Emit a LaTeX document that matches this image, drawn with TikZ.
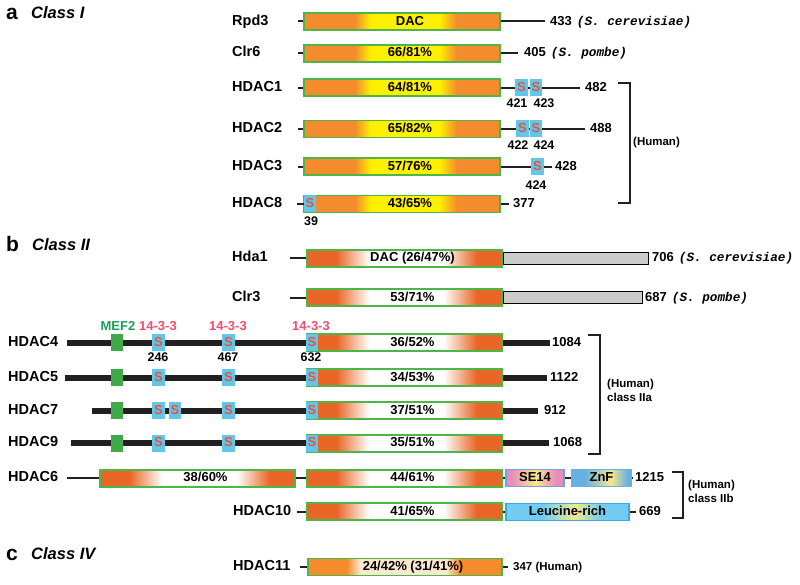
\documentclass[tikz,border=0pt]{standalone}
\usepackage{fontspec}
\setmainfont{Liberation Sans}
\newfontfamily\speciesfont{Liberation Mono}
\usetikzlibrary{positioning}

\definecolor{dacorange}{RGB}{244,140,46}
\definecolor{dacyellow}{RGB}{255,240,0}
\definecolor{dacgreen}{RGB}{78,182,72}
\definecolor{hdorange}{RGB}{232,102,38}
\definecolor{paleorange}{RGB}{250,232,206}
\definecolor{sercyan}{RGB}{96,198,234}
\definecolor{serred}{RGB}{228,84,62}
\definecolor{bindpink}{RGB}{238,78,108}
\definecolor{mefgreen}{RGB}{62,170,74}
\definecolor{meftext}{RGB}{28,158,88}
\definecolor{tailgray}{RGB}{204,204,204}
\definecolor{sepink}{RGB}{232,142,186}
\definecolor{seyellow}{RGB}{246,232,140}
\definecolor{seedge}{RGB}{120,160,214}
\definecolor{znblue}{RGB}{104,176,226}
\definecolor{leublue}{RGB}{112,204,240}
\definecolor{leuedge}{RGB}{60,170,225}
\definecolor{barblack}{RGB}{35,31,32}

\pgfdeclarehorizontalshading{classone}{100bp}{color(0bp)=(dacorange); color(38bp)=(dacorange); color(42bp)=(dacyellow); color(59.5bp)=(dacyellow); color(64bp)=(dacorange); color(100bp)=(dacorange)}
\pgfdeclarehorizontalshading{classtwo}{100bp}{color(0bp)=(hdorange); color(32.5bp)=(hdorange); color(41bp)=(white); color(60bp)=(white); color(68.5bp)=(hdorange); color(100bp)=(hdorange)}
\pgfdeclarehorizontalshading{classfour}{100bp}{color(0bp)=(dacorange); color(35bp)=(dacorange); color(38.5bp)=(paleorange); color(60.5bp)=(paleorange); color(64bp)=(dacorange); color(100bp)=(dacorange)}
\pgfdeclarehorizontalshading{seshade}{100bp}{color(0bp)=(sepink); color(30bp)=(sepink); color(50bp)=(seyellow); color(68bp)=(sepink); color(100bp)=(sepink)}
\pgfdeclarehorizontalshading{znshade}{100bp}{color(0bp)=(znblue); color(36bp)=(znblue); color(58bp)=(seyellow); color(72bp)=(znblue); color(100bp)=(znblue)}
\pgfdeclarehorizontalshading{leushade}{100bp}{color(0bp)=(leublue); color(40bp)=(leublue); color(53bp)=(seyellow); color(64bp)=(leublue); color(100bp)=(leublue)}

\newcommand\fsz[1]{\fontsize{#1}{#1}\selectfont}
\newcommand\species{\speciesfont\itshape\fsz{12.7}}

\begin{document}
\begin{tikzpicture}[x=1pt,y=-1pt,
	txt/.style={inner sep=0,text height=0.72em,text depth=0pt},
	panel/.style={anchor=base west,inner sep=0,font=\fsz{21}\bfseries},
	classhead/.style={anchor=base west,inner sep=0,font=\fsz{16.5}\bfseries\itshape},
	prot/.style={txt,anchor=west,font=\fsz{14.5}\bfseries},
	len/.style={txt,anchor=west,font=\fsz{13}\bfseries},
	sitenum/.style={txt,font=\fsz{12.5}\bfseries},
	note/.style={anchor=west,inner sep=0,align=left,font=\fontsize{11.5}{13.5}\selectfont\bfseries},
	dactext/.style={txt,xshift=8,font=\fsz{13}\bfseries},
	dacI/.style={draw=dacgreen,line width=1.5,shade,shading=classone,minimum width=196,minimum height=17,inner sep=0},
	dacII/.style={draw=dacgreen,line width=1.5,shade,shading=classtwo,minimum width=195,minimum height=17,inner sep=0},
	dacIV/.style={draw=dacgreen,line width=1.5,shade,shading=classfour,minimum width=194,minimum height=17,inner sep=0},
	ser/.style={txt,fill=sercyan,minimum width=12.5,minimum height=17,text=serred,font=\fsz{13}\bfseries},
	mef/.style={fill=mefgreen,minimum width=12,minimum height=17,inner sep=0},
	tail/.style={draw=black,line width=1.5,fill=tailgray,minimum height=12,inner sep=0,anchor=west},
	sebox/.style={txt,draw=seedge,line width=1.2,shade,shading=seshade,minimum width=58,minimum height=17,font=\fsz{13}\bfseries},
	znbox/.style={txt,draw=znblue,line width=1.2,shade,shading=znshade,minimum width=59,minimum height=17,font=\fsz{13}\bfseries},
	leubox/.style={txt,draw=leuedge,line width=1.2,shade,shading=leushade,minimum width=123,minimum height=17,font=\fsz{13}\bfseries},
	bindname/.style={txt,text=bindpink,font=\fsz{13}\bfseries},
	mefname/.style={txt,text=meftext,font=\fsz{13}\bfseries},
	link/.style={line width=2,barblack},
	bar/.style={line width=6,barblack},
	bracket/.style={line width=2,barblack}]
	\useasboundingbox (0,0) rectangle (800,585);

	% a: class I
	\node[panel] (pa) at (6,19.3) {a};
	\node[classhead] (ca) at (31,18.5) {Class I};

	\node[prot] (rpd3) at (232,21.5) {Rpd3};
	\coordinate (rpd3in) at (298,21.5);
	\node[dacI,label={[dactext]center:DAC}] (rpd3dac) at (402,21.5) {};
	\coordinate (rpd3end) at (545,21.5);
	\node[len] (rpd3len) at (550,21.5) {433\hspace{5pt}{\species (S.\ cerevisiae)}};
	\draw[link] (rpd3in) -- (rpd3dac.west);
	\draw[link] (rpd3dac.east) -- (rpd3end);

	\node[prot] (clr6) at (232,53.3) {Clr6};
	\coordinate (clr6in) at (298,53.3);
	\node[dacI,label={[dactext]center:66/81\%}] (clr6dac) at (402,53.3) {};
	\coordinate (clr6end) at (518,53.3);
	\node[len] (clr6len) at (524,53.3) {405\hspace{5pt}{\species (S.\ pombe)}};
	\draw[link] (clr6in) -- (clr6dac.west);
	\draw[link] (clr6dac.east) -- (clr6end);

	\node[prot] (hdac1) at (232,87.7) {HDAC1};
	\coordinate (h1in) at (298,87.7);
	\node[dacI,label={[dactext]center:64/81\%}] (h1dac) at (402,87.7) {};
	\node[ser] (h1s1) at (521.5,87.7) {S};
	\node[ser] (h1s2) at (536,87.7) {S};
	\coordinate (h1end) at (580,87.7);
	\node[len] (h1len) at (585,87.7) {482};
	\node[sitenum] (h1p1) at (517,104) {421};
	\node[sitenum] (h1p2) at (544,104) {423};
	\draw[link] (h1in) -- (h1dac.west);
	\draw[link] (h1dac.east) -- (h1s1.west);
	\draw[link] (h1s1.east) -- (h1s2.west);
	\draw[link] (h1s2.east) -- (h1end);

	\node[prot] (hdac2) at (232,129) {HDAC2};
	\coordinate (h2in) at (298,129);
	\node[dacI,label={[dactext]center:65/82\%}] (h2dac) at (402,129) {};
	\node[ser] (h2s1) at (522.5,129) {S};
	\node[ser] (h2s2) at (536,129) {S};
	\coordinate (h2end) at (585,129);
	\node[len] (h2len) at (590,129) {488};
	\node[sitenum] (h2p1) at (518,145.5) {422};
	\node[sitenum] (h2p2) at (544,145.5) {424};
	\draw[link] (h2in) -- (h2dac.west);
	\draw[link] (h2dac.east) -- (h2s1.west);
	\draw[link] (h2s1.east) -- (h2s2.west);
	\draw[link] (h2s2.east) -- (h2end);

	\node[prot] (hdac3) at (232,166.7) {HDAC3};
	\coordinate (h3in) at (298,166.7);
	\node[dacI,label={[dactext]center:57/76\%}] (h3dac) at (402,166.7) {};
	\node[ser] (h3s1) at (537.5,166.7) {S};
	\coordinate (h3end) at (552,166.7);
	\node[len] (h3len) at (555,166.7) {428};
	\node[sitenum] (h3p1) at (536,185.5) {424};
	\draw[link] (h3in) -- (h3dac.west);
	\draw[link] (h3dac.east) -- (h3s1.west);
	\draw[link] (h3s1.east) -- (h3end);

	\node[prot] (hdac8) at (232,204) {HDAC8};
	\coordinate (h8in) at (297,204);
	\node[dacI,label={[dactext]center:43/65\%}] (h8dac) at (402,204) {};
	\node[ser] (h8s1) at (310,204) {S};
	\coordinate (h8end) at (509,204);
	\node[len] (h8len) at (513,204) {377};
	\node[sitenum] (h8p1) at (311,222) {39};
	\draw[link] (h8in) -- (h8s1.west);
	\draw[link] (h8dac.east) -- (h8end);

	\draw[bracket] (618,83) -| (630,203) -- (618,203);
	\node[note] (huma) at (633,143) {(Human)};

	% b: class II
	\node[panel] (pb) at (6,251.7) {b};
	\node[classhead] (cb) at (32,250.7) {Class II};

	\node[prot] (hda1) at (232,258.3) {Hda1};
	\coordinate (hda1in) at (290,258.3);
	\node[dacII,label={[dactext]center:DAC (26/47\%)}] (hda1dac) at (404.5,258.3) {};
	\node[tail,minimum width=145] (hda1tail) at (hda1dac.east) {};
	\node[len] (hda1len) at (652,258.3) {706\hspace{5pt}{\species (S.\ cerevisiae)}};
	\draw[link] (hda1in) -- (hda1dac.west);

	\node[prot] (clr3) at (232,297.7) {Clr3};
	\coordinate (clr3in) at (290,297.7);
	\node[dacII,label={[dactext]center:53/71\%}] (clr3dac) at (404.5,297.7) {};
	\node[tail,minimum width=139] (clr3tail) at (clr3dac.east) {};
	\node[len] (clr3len) at (645,297.7) {687\hspace{5pt}{\species (S.\ pombe)}};
	\draw[link] (clr3in) -- (clr3dac.west);

	\node[mefname] (mef2) at (118,327) {MEF2};
	\node[bindname] (bind1) at (158,327) {14-3-3};
	\node[bindname] (bind2) at (228,327) {14-3-3};
	\node[bindname] (bind3) at (311,327) {14-3-3};

	\node[prot] (hdac4) at (8,342.7) {HDAC4};
	\coordinate (h4in) at (67,342.7);
	\coordinate (h4end) at (550,342.7);
	\draw[bar] (h4in) -- (h4end);
	\node[mef] (h4mef) at (117,342.7) {};
	\node[ser] (h4s1) at (158.5,342.7) {S};
	\node[ser] (h4s2) at (228.5,342.7) {S};
	\node[dacII,label={[dactext]center:36/52\%}] (h4dac) at (404.5,342.7) {};
	\node[ser] (h4s3) at (312,342.7) {S};
	\node[len] (h4len) at (552,342.7) {1084};
	\node[sitenum] (h4p1) at (158,358) {246};
	\node[sitenum] (h4p2) at (228,358) {467};
	\node[sitenum] (h4p3) at (311,358) {632};

	\node[prot] (hdac5) at (8,377.7) {HDAC5};
	\coordinate (h5in) at (65,377.7);
	\coordinate (h5end) at (547,377.7);
	\draw[bar] (h5in) -- (h5end);
	\node[mef] (h5mef) at (117,377.7) {};
	\node[ser] (h5s1) at (158.5,377.7) {S};
	\node[ser] (h5s2) at (228.5,377.7) {S};
	\node[dacII,label={[dactext]center:34/53\%}] (h5dac) at (404.5,377.7) {};
	\node[ser] (h5s3) at (312,377.7) {S};
	\node[len] (h5len) at (550,377.7) {1122};

	\node[prot] (hdac7) at (8,410.7) {HDAC7};
	\coordinate (h7in) at (92,410.7);
	\coordinate (h7end) at (538,410.7);
	\draw[bar] (h7in) -- (h7end);
	\node[mef] (h7mef) at (117,410.7) {};
	\node[ser] (h7s1) at (158.5,410.7) {S};
	\node[ser] (h7s2) at (175,410.7) {S};
	\node[ser] (h7s3) at (228.5,410.7) {S};
	\node[dacII,label={[dactext]center:37/51\%}] (h7dac) at (404.5,410.7) {};
	\node[ser] (h7s4) at (312,410.7) {S};
	\node[len] (h7len) at (544,410.7) {912};

	\node[prot] (hdac9) at (8,443.3) {HDAC9};
	\coordinate (h9in) at (71,443.3);
	\coordinate (h9end) at (549,443.3);
	\draw[bar] (h9in) -- (h9end);
	\node[mef] (h9mef) at (117,443.3) {};
	\node[ser] (h9s1) at (158.5,443.3) {S};
	\node[ser] (h9s2) at (228.5,443.3) {S};
	\node[dacII,label={[dactext]center:35/51\%}] (h9dac) at (404.5,443.3) {};
	\node[ser] (h9s3) at (312,443.3) {S};
	\node[len] (h9len) at (553,443.3) {1068};

	\draw[bracket] (588,335) -| (600,454) -- (588,454);
	\node[note] (iia) at (607,390.5) {(Human)\\class IIa};

	\node[prot] (hdac6) at (8,478.3) {HDAC6};
	\coordinate (h6in) at (67,478.3);
	\node[dacII,label={[dactext]center:38/60\%}] (h6dac1) at (197.5,478.3) {};
	\node[dacII,label={[dactext]center:44/61\%}] (h6dac2) at (404.5,478.3) {};
	\node[sebox] (h6se) at (535,478.3) {SE14};
	\node[znbox] (h6zn) at (601.5,478.3) {ZnF};
	\coordinate (h6end) at (633,478.3);
	\node[len] (h6len) at (635,478.3) {1215};
	\draw[link] (h6in) -- (h6dac1.west);
	\draw[link] (h6dac1.east) -- (h6dac2.west);
	\draw[link] (h6dac2.east) -- (h6se.west);
	\draw[link] (h6se.east) -- (h6zn.west);
	\draw[link] (h6zn.east) -- (h6end);

	\node[prot] (hdac10) at (233,511.7) {HDAC10};
	\coordinate (h10in) at (297,511.7);
	\node[dacII,label={[dactext]center:41/65\%}] (h10dac) at (404.5,511.7) {};
	\node[leubox] (h10leu) at (567.5,511.7) {Leucine-rich};
	\coordinate (h10end) at (636,511.7);
	\node[len] (h10len) at (639,511.7) {669};
	\draw[link] (h10in) -- (h10dac.west);
	\draw[link] (h10dac.east) -- (h10leu.west);
	\draw[link] (h10leu.east) -- (h10end);

	\draw[bracket] (672,472) -| (683,518) -- (672,518);
	\node[note] (iib) at (688,491.5) {(Human)\\class IIb};

	% c: class IV
	\node[panel] (pc) at (6,560) {c};
	\node[classhead] (cc) at (31,559) {Class IV};

	\node[prot] (hdac11) at (233,567) {HDAC11};
	\coordinate (h11in) at (300,567);
	\node[dacIV,label={[dactext]center:24/42\% (31/41\%)}] (h11dac) at (405,567) {};
	\coordinate (h11end) at (508,567);
	\node[len,font=\fsz{11.5}\bfseries] (h11len) at (513,567) {347 (Human)};
	\draw[link] (h11in) -- (h11dac.west);
	\draw[link] (h11dac.east) -- (h11end);
\end{tikzpicture}
\end{document}
